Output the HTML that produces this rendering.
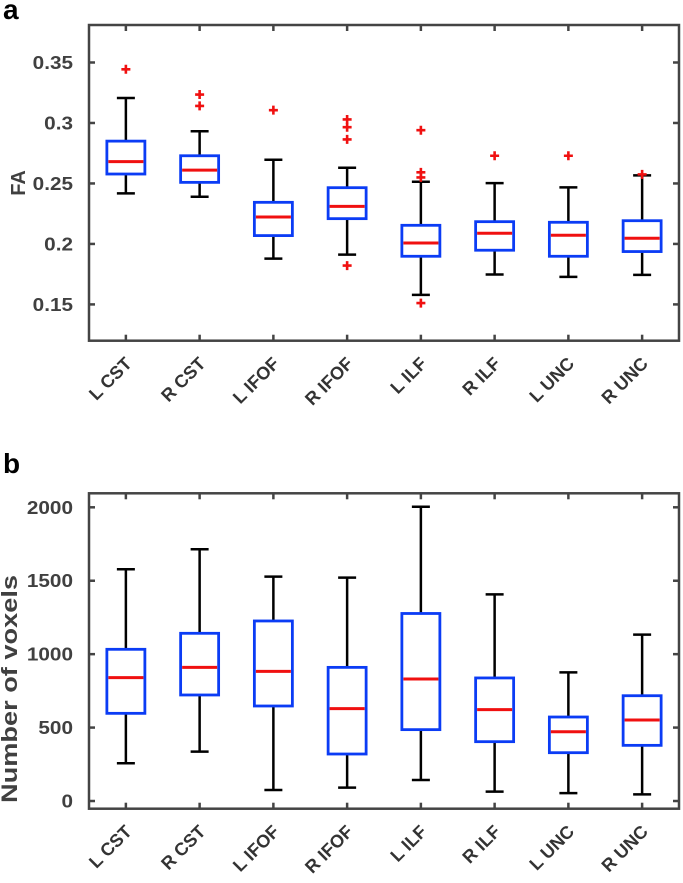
<!DOCTYPE html>
<html><head><meta charset="utf-8">
<style>
html,body{margin:0;padding:0;background:#fff;}
svg{display:block;font-family:"Liberation Sans",Arial,sans-serif;}
</style></head>
<body>
<svg id="fig" width="683" height="883" viewBox="0 0 683 883" xmlns="http://www.w3.org/2000/svg">
<text x="3" y="19" font-size="28" font-weight="bold" fill="#000">a</text>
<text x="3" y="473" font-size="28" font-weight="bold" fill="#000">b</text>
<text transform="translate(25,183) rotate(-90)" text-anchor="middle" font-size="20" font-weight="bold" fill="#404040">FA</text>
<text transform="translate(17,689) rotate(-90)" text-anchor="middle" font-size="22" font-weight="bold" fill="#404040" textLength="228" lengthAdjust="spacingAndGlyphs">Number of voxels</text>
</svg>
<script>
const categories = ["L CST","R CST","L IFOF","R IFOF","L ILF","R ILF","L UNC","R UNC"];
// Panel a: FA
const faWhiskerHigh = [0.3207,0.2932,0.2696,0.2630,0.2514,0.2503,0.2468,0.2567];
const faQ3 = [0.2850,0.2729,0.2344,0.2465,0.2154,0.2184,0.2179,0.2192];
const faMedian = [0.2680,0.2610,0.2223,0.2311,0.2008,0.2088,0.2072,0.2047];
const faQ1 = [0.2578,0.2509,0.2069,0.2209,0.1898,0.1948,0.1898,0.1937];
const faWhiskerLow = [0.2418,0.2390,0.1879,0.1912,0.1579,0.1747,0.1728,0.1744];
const faOutliers = [[0.3444],[0.3235,0.3141],[0.3106],[0.3029,0.2965,0.2864,0.1821],[0.2940,0.2592,0.2550,0.1511],[0.2729],[0.2729],[0.2575]];
const faTicks = [0.15,0.2,0.25,0.3,0.35];
const faTickLabels = ["0.15","0.2","0.25","0.3","0.35"];
// Panel b: voxels
const vxWhiskerHigh = [1578,1714,1528,1521,2004,1407,876,1133];
const vxQ3 = [1033,1142,1226,910,1277,838,572,717];
const vxMedian = [840,910,883,629,831,622,472,552];
const vxQ1 = [597,722,647,320,486,404,329,379];
const vxWhiskerLow = [257,336,75,91,143,64,54,45];
const vxOutliers = [[],[],[],[],[],[],[],[]];
const vxTicks = [0,500,1000,1500,2000];
const vxTickLabels = ["0","500","1000","1500","2000"];

const NS="http://www.w3.org/2000/svg";
const svg=document.getElementById('fig');
function mk(tag,attrs,parent){const e=document.createElementNS(NS,tag);for(const k in attrs)e.setAttribute(k,attrs[k]);(parent||svg).appendChild(e);return e;}

function panel(opt){
  const L=89,R=679,T=opt.top,B=opt.bottom;
  const g=mk('g',{});
  
  
  const y=v=>T+(opt.ymax-v)/(opt.ymax-opt.ymin)*(B-T);
  const step=(R-L)/categories.length;
  const x=i=>L+step*(i+0.5);
  opt.ticks.forEach((t,i)=>{
    const yy=y(t);
    mk('line',{x1:L,x2:L+6,y1:yy,y2:yy,stroke:'#444','stroke-width':2.5},g);
    mk('line',{x1:R,x2:R-6,y1:yy,y2:yy,stroke:'#444','stroke-width':2.5},g);
    const tx=mk('text',{x:L-16,y:yy+6.5,'text-anchor':'end','font-size':18,'font-weight':'bold',fill:'#404040'},g);
    tx.textContent=opt.tickLabels[i];
    
    
    const len=tx.getComputedTextLength();
    if(len>0){tx.setAttribute('textLength',(len*1.15).toFixed(1));tx.setAttribute('lengthAdjust','spacingAndGlyphs');}
  });
  categories.forEach((c,i)=>{
    const cx=x(i);
    mk('line',{x1:cx,x2:cx,y1:B,y2:B-6,stroke:'#444','stroke-width':2.5},g);
    mk('line',{x1:cx,x2:cx,y1:T,y2:T+6,stroke:'#444','stroke-width':2.5},g);
    const lab=mk('text',{transform:`translate(${cx+7},${B+24}) rotate(-45)`,'text-anchor':'end','font-size':18,'font-weight':'bold',fill:'#333'},g);
    lab.textContent=c;
    
    
    const bg=mk('g',{},g);
    
    
    const hw=19,cw=9;
    mk('line',{x1:cx,x2:cx,y1:y(opt.wh[i]),y2:y(opt.q3[i]),stroke:'#000','stroke-width':2.5},bg);
    mk('line',{x1:cx,x2:cx,y1:y(opt.q1[i]),y2:y(opt.wl[i]),stroke:'#000','stroke-width':2.5},bg);
    mk('line',{x1:cx-cw,x2:cx+cw,y1:y(opt.wh[i]),y2:y(opt.wh[i]),stroke:'#000','stroke-width':2.5},bg);
    mk('line',{x1:cx-cw,x2:cx+cw,y1:y(opt.wl[i]),y2:y(opt.wl[i]),stroke:'#000','stroke-width':2.5},bg);
    mk('rect',{x:cx-hw,y:y(opt.q3[i]),width:2*hw,height:y(opt.q1[i])-y(opt.q3[i]),fill:'none',stroke:'#0b3cf5','stroke-width':2.8},bg);
    mk('line',{x1:cx-hw+1.5,x2:cx+hw-1.5,y1:y(opt.med[i]),y2:y(opt.med[i]),stroke:'#f01010','stroke-width':3},bg);
    opt.out[i].forEach(v=>{
      const oy=y(v);
      const p=mk('path',{d:`M${cx-4.5},${oy}H${cx+4.5}M${cx},${oy-4.5}V${oy+4.5}`,stroke:'#f01010','stroke-width':2.6},bg);
      
      
    });
  });
  mk('rect',{x:L,y:T,width:R-L,height:B-T,fill:'none',stroke:'#444','stroke-width':2.5},g);
}
panel({name:'panel-a-fa-chart',top:25,bottom:340.7,ymin:0.12,ymax:0.381,ticks:faTicks,tickLabels:faTickLabels,
  wh:faWhiskerHigh,q3:faQ3,med:faMedian,q1:faQ1,wl:faWhiskerLow,out:faOutliers});
panel({name:'panel-b-voxels-chart',top:493.3,bottom:808.7,ymin:-52.4,ymax:2095.4,ticks:vxTicks,tickLabels:vxTickLabels,
  wh:vxWhiskerHigh,q3:vxQ3,med:vxMedian,q1:vxQ1,wl:vxWhiskerLow,out:vxOutliers});
</script>
</body></html>
